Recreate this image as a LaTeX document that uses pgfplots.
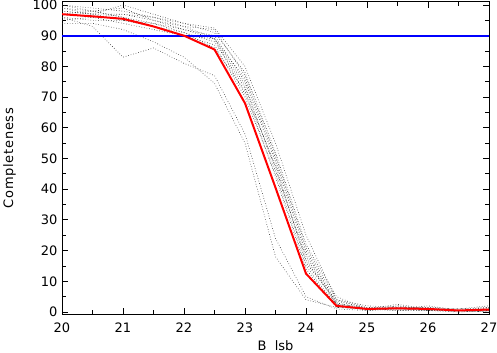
\documentclass[border=0pt]{standalone}
\usepackage{fontspec}
\setmainfont{DejaVu Sans}
\usepackage{pgfplots}
\usepackage{pgfplotstable}
\pgfplotsset{compat=1.18}
\pgfplotstableread{
x    d1   d2   u1  u2   u3  u4  u5  u6  u7  u8  u9  u10  red  lim
20   96   94   100 98   97  99  96  98  95  97  100 99   97   90
20.5 93   94   99  97   96  98  95  97  96  98  98  97   96.3 90
21   83   92   98  100  97  96  95  97  94  99  96  95   95.5 90
21.5 86   88   96  97   95  93  94  96  92  95  94  93   93   90
22   81   83   94  94   93  91  92  93  90  92  91  90   90   90
22.5 77   74.5 91  92.5 89  88  90  92  87  89  86  89   85.5 90
23   58   55   78  80   76  73  75  77  70  74  72  71   68   90
23.5 24   18   52  55   50  47  49  51  45  46  44  48   40.5 90
24   5    4    22  25   20  17  19  21  15  18  14  16   12.5 90
24.5 1    1.5  5   4    3   2.5 3   4   2   2.5 1.5 3.5  2    90
25   0.5  1    1   2    1   1.5 0.5 1   1   0.5 1   1.5  1    90
25.5 1    0.5  2   1.5  2.5 1   1   1.5 0.5 2   1   1    1.2  90
26   0.5  0.5  1   1.5  1   0.5 2   1   1   0.5 1.5 1    1    90
26.5 0    0.3  0.5 1    0.5 1   0.5 1   0   0.5 0.5 0.5  0.5  90
27   0.5  1    1   2    0.5 1.5 0   1   0.5 1   0   1.5  0.8  90
}\datatable
\begin{document}
\begin{tikzpicture}
\begin{axis}[
  name=ax,
  scale only axis,
  width=427pt, height=312.6pt,
  xmin=20, xmax=27, ymin=-0.75, ymax=101.07,
  xtick={20,...,27}, ytick={0,10,...,100},
  minor x tick num=1, minor y tick num=1,
  tick align=inside, tick pos=both,
  major tick length=6pt, minor tick length=4pt,
  every tick/.style={black, line width=0.8pt},
  axis line style={black, line width=0.9pt},
  tick label style={font=\fontsize{13}{14}\selectfont},
  /pgf/number format/assume math mode=true,
  xticklabel style={yshift=-5pt},
  yticklabel style={xshift=-1pt},
  xlabel={B\ \ lsb},
  ylabel={\addfontfeatures{LetterSpace=5.5}Completeness},
  label style={font=\fontsize{13}{14}\selectfont},
  xlabel style={inner sep=0pt, yshift=-4pt},
  ylabel style={yshift=10pt},
  clip=true,
]
\pgfplotsinvokeforeach{d1,d2,u1,u2,u3,u4,u5,u6,u7,u8,u9,u10}{
  \addplot[color=black!80, dotted, line width=0.6pt] table[x=x, y=#1] {\datatable};
}
\addplot[draw=blue, solid, line width=2pt, mark=none] table[x=x, y=lim] {\datatable};
\addplot[draw=red, solid, line width=2pt, mark=none] table[x=x, y=red] {\datatable};
\end{axis}
\pgfresetboundingbox
\path ([xshift=-62pt,yshift=-37.7pt]ax.south west) rectangle ([xshift=8pt,yshift=1.7pt]ax.north east);
\end{tikzpicture}
\end{document}
